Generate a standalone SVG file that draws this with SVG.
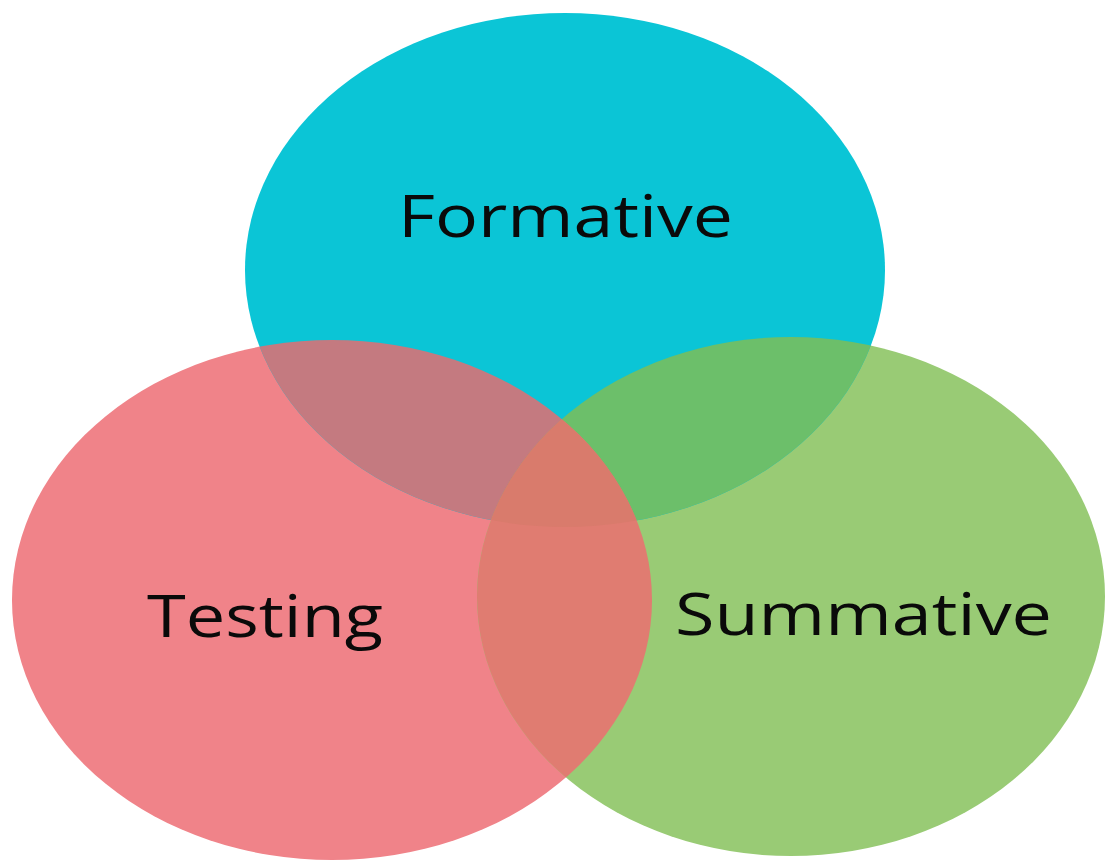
<svg xmlns="http://www.w3.org/2000/svg" width="1107" height="861" viewBox="0 0 1107 861">
<style>
.lbl{font-family:"Open Sans","Liberation Sans",sans-serif;fill:#0a0a0a;font-size:58px;}
</style>
<defs>
<clipPath id="clipRed"><ellipse cx="332" cy="600" rx="320" ry="260"/></clipPath>
<clipPath id="clipGreen"><ellipse cx="791" cy="596.5" rx="314" ry="259.5"/></clipPath>
<clipPath id="clipCyan"><ellipse cx="565" cy="270" rx="320" ry="257"/></clipPath>
</defs>
<rect width="1107" height="861" fill="#ffffff"/>
<g id="testing">
<ellipse cx="332" cy="600" rx="320" ry="260" fill="#f08389"/>
</g>
<g id="summative">
<ellipse cx="791" cy="596.5" rx="314" ry="259.5" fill="#99cb75"/>
</g>
<g id="formative">
<ellipse cx="565" cy="270" rx="320" ry="257" fill="#0bc5d6"/>
</g>
<g id="overlaps">
<g clip-path="url(#clipRed)"><ellipse cx="565" cy="270" rx="320" ry="257" fill="#c47a80"/></g>
<g clip-path="url(#clipGreen)"><ellipse cx="565" cy="270" rx="320" ry="257" fill="#6cbf6a"/></g>
<g clip-path="url(#clipGreen)"><ellipse cx="332" cy="600" rx="320" ry="260" fill="#e07c71"/></g>
<g clip-path="url(#clipCyan)"><g clip-path="url(#clipGreen)"><ellipse cx="332" cy="600" rx="320" ry="260" fill="#d97b6c"/></g></g>
</g>
<g id="labels">
<text class="lbl" x="398" y="237" textLength="335" lengthAdjust="spacingAndGlyphs">Formative</text>
<text class="lbl" x="147" y="637" textLength="236" lengthAdjust="spacingAndGlyphs">Testing</text>
<text class="lbl" x="675" y="635" textLength="377" lengthAdjust="spacingAndGlyphs">Summative</text>
</g>
</svg>
